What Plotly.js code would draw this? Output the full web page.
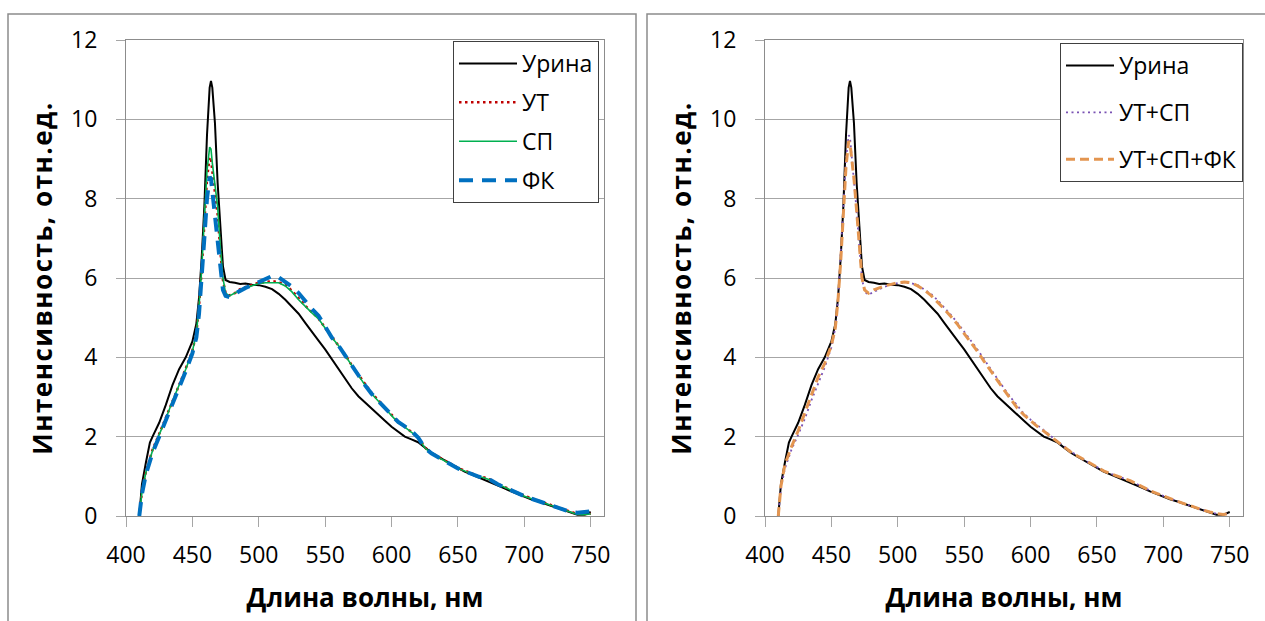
<!DOCTYPE html>
<html>
<head>
<meta charset="utf-8">
<script src="https://cdn.plot.ly/plotly-3.0.1.min.js"></script>
<style>
html,body{margin:0;padding:0;background:#fff;}
#chart{width:1265px;height:621px;}
#chart .ytitle, #chart .y2title{letter-spacing:1.5px;}
</style>
</head>
<body>
<div id="chart"></div>
<script>
// Wavelength, nm
const wl = [410,412,415,418,420,425,430,435,440,445,450,
  453,455,457,459,461,463,464,465,467,469,471,473,475,
  478,482,486,490,495,
  500,505,510,515,520,525,530,535,540,545,550,555,560,565,570,575,580,585,590,595,
  600,605,610,615,620,625,630,635,640,645,650,655,660,665,670,675,680,685,690,695,
  700,705,710,715,720,725,730,735,740,745,750];

// Урина
const urina = [0,0.8,1.35,1.85,2.0,2.35,2.8,3.3,3.7,4.0,4.4,
  4.85,5.5,6.5,7.8,9.6,10.8,10.97,10.8,9.9,8.4,7.2,6.3,5.95,
  5.9,5.88,5.85,5.86,5.83,
  5.82,5.78,5.72,5.6,5.45,5.27,5.1,4.87,4.66,4.42,4.2,3.95,3.72,3.45,3.22,3.02,2.86,2.7,2.55,2.4,
  2.25,2.12,2.0,1.93,1.86,1.73,1.6,1.5,1.4,1.3,1.2,1.12,1.05,0.98,0.92,0.86,0.78,0.7,0.62,0.55,
  0.48,0.42,0.37,0.31,0.25,0.19,0.13,0.07,0.03,0.03,0.1];

// УТ
const ut = [0,0.62,1.12,1.47,1.67,2.07,2.47,2.9,3.3,3.72,4.17,
  4.6,5.3,6.2,7.4,8.5,9.05,9.0,8.7,8.1,7.6,6.7,5.95,5.62,
  5.56,5.62,5.72,5.77,5.82,
  5.88,5.9,5.92,5.9,5.82,5.68,5.48,5.3,5.14,4.98,4.74,4.52,4.32,4.07,3.8,3.56,3.32,3.1,2.92,2.73,
  2.54,2.37,2.25,2.13,1.99,1.73,1.59,1.49,1.41,1.31,1.21,1.14,1.07,1.01,0.97,0.91,0.81,0.73,0.65,0.57,
  0.51,0.45,0.39,0.33,0.27,0.21,0.15,0.09,0.05,0.04,0.06];

// СП
const sp = [0,0.6,1.1,1.45,1.65,2.05,2.45,2.9,3.3,3.7,4.15,
  4.6,5.3,6.2,7.5,8.7,9.3,9.25,8.9,8.3,7.8,6.8,6.0,5.62,
  5.55,5.62,5.7,5.75,5.8,
  5.86,5.88,5.88,5.88,5.8,5.65,5.45,5.28,5.12,4.97,4.72,4.5,4.3,4.05,3.78,3.55,3.3,3.08,2.9,2.72,
  2.52,2.35,2.24,2.12,1.98,1.72,1.58,1.48,1.4,1.3,1.2,1.13,1.06,1.0,0.96,0.9,0.8,0.72,0.64,0.56,
  0.5,0.44,0.38,0.32,0.26,0.2,0.14,0.08,0.04,0.03,0.05];

// ФК
const fk = [0,0.55,1.05,1.4,1.6,2.0,2.4,2.85,3.25,3.65,4.1,
  4.5,5.1,5.9,7.0,8.0,8.55,8.5,8.2,7.6,6.9,6.2,5.7,5.55,
  5.52,5.6,5.68,5.75,5.82,
  5.9,5.98,6.05,6.02,5.9,5.78,5.62,5.4,5.22,5.05,4.78,4.5,4.3,4.05,3.78,3.55,3.3,3.08,2.9,2.72,
  2.53,2.37,2.26,2.14,1.98,1.72,1.58,1.48,1.4,1.3,1.2,1.13,1.06,1.0,0.95,0.9,0.8,0.72,0.64,0.57,
  0.5,0.44,0.38,0.32,0.26,0.2,0.15,0.1,0.08,0.1,0.12];

// УТ+СП
const utSp = [0,0.7,1.2,1.5,1.68,2.05,2.45,2.92,3.35,3.75,4.25,
  4.75,5.45,6.5,7.8,9.0,9.6,9.55,9.2,8.5,7.7,6.8,6.0,5.65,
  5.58,5.65,5.72,5.78,5.83,
  5.87,5.88,5.87,5.82,5.72,5.6,5.44,5.26,5.07,4.87,4.65,4.42,4.2,3.95,3.7,3.45,3.22,2.99,2.77,2.58,
  2.43,2.29,2.16,2.02,1.89,1.76,1.63,1.52,1.42,1.32,1.22,1.14,1.07,1.0,0.95,0.89,0.8,0.72,0.64,0.57,
  0.5,0.44,0.38,0.32,0.26,0.2,0.15,0.1,0.06,0.04,0.07];

// УТ+СП+ФК
const utSpFk = [0,0.75,1.3,1.6,1.75,2.15,2.6,3.05,3.5,3.85,4.3,
  4.75,5.45,6.4,7.6,8.8,9.45,9.4,9.1,8.5,7.7,6.8,6.0,5.7,
  5.62,5.7,5.75,5.8,5.84,
  5.88,5.9,5.88,5.8,5.7,5.56,5.4,5.22,5.03,4.83,4.6,4.38,4.15,3.9,3.65,3.4,3.18,2.95,2.72,2.55,
  2.4,2.26,2.14,2.0,1.88,1.75,1.62,1.52,1.42,1.32,1.22,1.14,1.07,1.0,0.95,0.89,0.8,0.72,0.64,0.57,
  0.5,0.44,0.38,0.32,0.26,0.2,0.15,0.1,0.06,0.04,0.06];

const xTicks = [400,450,500,550,600,650,700,750];
const yTicks = [0,2,4,6,8,10,12];
const xTitle = 'Длина волны, нм';
const yTitle = 'Интенсивность, отн.ед.';

const W = 1265, H = 621;
const px = v => v / W;
const py = v => 1 - v / H;
const FONT = 'Open Sans, Noto Sans, sans-serif';

const traces = [
  {x: wl, y: urina, name: 'Урина', xaxis: 'x', yaxis: 'y', legend: 'legend',
   line: {color: '#000000', width: 2}},
  {x: wl, y: ut, name: 'УТ', xaxis: 'x', yaxis: 'y', legend: 'legend',
   line: {color: '#c00000', width: 2.5, dash: '2.5px,3.5px'}},
  {x: wl, y: sp, name: 'СП', xaxis: 'x', yaxis: 'y', legend: 'legend',
   line: {color: '#00b050', width: 1.6}},
  {x: wl, y: fk, name: 'ФК', xaxis: 'x', yaxis: 'y', legend: 'legend',
   line: {color: '#0070c0', width: 4, dash: '14px,9px'}},
  {x: wl, y: urina, name: 'Урина', xaxis: 'x2', yaxis: 'y2', legend: 'legend2',
   line: {color: '#000000', width: 2}},
  {x: wl, y: utSp, name: 'УТ+СП', xaxis: 'x2', yaxis: 'y2', legend: 'legend2',
   line: {color: '#7a52b3', width: 1.8, dash: '2px,3.5px'}},
  {x: wl, y: utSpFk, name: 'УТ+СП+ФК', xaxis: 'x2', yaxis: 'y2', legend: 'legend2',
   line: {color: '#e39550', width: 3, dash: '9px,5px'}}
].map((t, i) => Object.assign({type: 'scatter', mode: 'lines', legendgroup: 'g' + i, hoverinfo: 'skip'}, t));

function xAxis(domain, anchor) {
  return {
    domain: domain, anchor: anchor, range: [400, 760],
    tickmode: 'array', tickvals: xTicks, ticktext: xTicks.map(String),
    ticks: 'outside', ticklen: 10, tickcolor: '#a6a6a6', tickwidth: 1,
    ticklabelstandoff: 8,
    showgrid: false, zeroline: false,
    showline: true, linecolor: '#8c8c8c', linewidth: 1, mirror: true,
    tickfont: {family: FONT, size: 23, color: '#000'},
    title: {text: xTitle, font: {family: FONT, size: 26, color: '#000', weight: 'bold'}, standoff: 20},
    fixedrange: true
  };
}
function yAxis(domain, anchor) {
  return {
    domain: domain, anchor: anchor, range: [0, 12],
    tickmode: 'array', tickvals: yTicks, ticktext: yTicks.map(String),
    ticks: 'outside', ticklen: 9, tickcolor: '#a6a6a6', tickwidth: 1,
    ticklabelstandoff: 14,
    showgrid: true, gridcolor: '#a6a6a6', gridwidth: 1, zeroline: false,
    showline: true, linecolor: '#8c8c8c', linewidth: 1, mirror: true,
    tickfont: {family: FONT, size: 23, color: '#000'},
    title: {text: yTitle, font: {family: FONT, size: 26, color: '#000', weight: 'bold'}, standoff: 10},
    fixedrange: true
  };
}

const yDom = [py(516), py(40)];
const layout = {
  width: W, height: H,
  margin: {l: 0, r: 0, t: 0, b: 0},
  paper_bgcolor: '#ffffff', plot_bgcolor: '#ffffff',
  showlegend: true,
  xaxis: xAxis([px(126), px(604)], 'y'),
  yaxis: yAxis(yDom, 'x'),
  xaxis2: xAxis([px(765), px(1243)], 'y2'),
  yaxis2: yAxis(yDom, 'x2'),
  legend: {
    x: px(599), xanchor: 'right', y: py(41), yanchor: 'top',
    bgcolor: '#ffffff', bordercolor: '#404040', borderwidth: 1,
    font: {family: FONT, size: 23, color: '#000'},
    traceorder: 'grouped', tracegroupgap: 6, itemwidth: 58
  },
  legend2: {
    x: px(1243), xanchor: 'right', y: py(43), yanchor: 'top',
    bgcolor: '#ffffff', bordercolor: '#404040', borderwidth: 1,
    font: {family: FONT, size: 23, color: '#000'},
    traceorder: 'grouped', tracegroupgap: 14, itemwidth: 48
  },
  shapes: [
    {type: 'rect', xref: 'paper', yref: 'paper', x0: px(8), x1: px(636), y0: -0.1, y1: py(14),
     line: {color: '#8c8c8c', width: 1.5}, layer: 'below'},
    {type: 'rect', xref: 'paper', yref: 'paper', x0: px(647), x1: 1.1, y0: -0.1, y1: py(14),
     line: {color: '#8c8c8c', width: 1.5}, layer: 'below'}
  ]
};

Plotly.newPlot('chart', traces, layout, {displayModeBar: false, staticPlot: true});
</script>
</body>
</html>
